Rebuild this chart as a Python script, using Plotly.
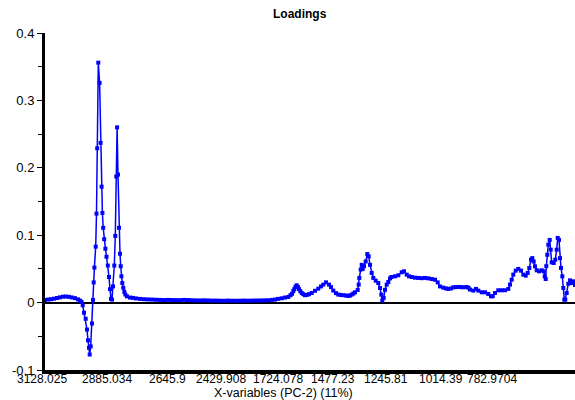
import plotly.graph_objects as go

# Variable index (position along the X-variables axis) and PC-2 loadings
var_index = [0, 3, 6, 9, 12, 15, 18, 21, 24, 27, 30, 33, 35, 36.5, 37.7, 39, 40.7, 42, 43, 44, 44.7, 45.7, 47, 48,
             48.7, 49.4, 50.7, 51.5, 52.2, 53.3, 54.6, 55.6, 56.6, 57.4, 58.2, 59.2, 60.4, 61.5, 62.8, 64, 65, 66, 67,
             68, 69.3, 70.3, 71.3, 72.1, 73, 74, 75, 75.7, 76.4, 77.3, 78.3, 79.3, 80.3, 82, 85, 88, 91, 95, 99, 103,
             107, 111, 115, 119, 123, 127, 131, 135, 139, 143, 147, 151, 155, 159, 163, 167, 171, 175, 179, 183, 187,
             191, 195, 199, 203, 207, 211, 215, 219, 223, 227, 230, 233, 236.7, 240, 243.3, 245.5, 247, 248.3, 249.3,
             250.5, 251.7, 253, 254, 255.3, 256.7, 258.3, 260, 262, 264, 266.7, 270, 273.3, 276, 278.3, 281, 284, 286,
             288.3, 291, 293.3, 296, 298.3, 301, 303.3, 305, 306.7, 308.5, 310, 312.7, 313.7, 314.3, 315.7, 316.7,
             317.7, 319, 320.7, 322.3, 323.7, 325, 326.7, 328.3, 330.7, 333.3, 335, 336.3, 337.3, 338.7, 340, 341.7,
             343.3, 345, 346.5, 350, 353.3, 356.7, 359, 361.7, 364, 366.7, 370, 373.3, 376.7, 380, 383.3, 386.7, 390,
             392.7, 395, 398.3, 401, 403.3, 406, 408.3, 411, 413.3, 416, 418.3, 421.7, 423.5, 425, 428.3, 431, 433.3,
             436.7, 440, 443.3, 446, 447.7, 450, 453.3, 456.7, 460, 463.3, 465, 466.7, 468.3, 470.7, 473.3, 476, 478.3,
             480.7, 482.7, 484.3, 486, 487.3, 488.7, 490, 491.7, 494, 496.7, 498.7, 499.7, 500.7, 501.3, 502.3, 503.3,
             504.7, 505.7, 506.7, 508.7, 510.3, 511.7, 512.7, 514, 515, 516, 517.3, 518.3, 519.3, 520.3, 521.7, 523.3,
             525, 526.7, 528.3, 530]

loadings = [0.004, 0.0045, 0.005, 0.0058, 0.0068, 0.0078, 0.0088, 0.009, 0.0085, 0.0076, 0.0066, 0.0048, 0.003,
            0.001, -0.004, -0.015, -0.024, -0.040, -0.056, -0.067, -0.077, -0.065, -0.031, 0.004,
            0.03, 0.052, 0.083, 0.132, 0.229, 0.356, 0.326, 0.237, 0.172, 0.133, 0.111, 0.094, 0.080, 0.068, 0.055,
            0.038, 0.020, 0.0055, 0.0045,
            0.024, 0.055, 0.099, 0.187, 0.260, 0.190, 0.111, 0.0725, 0.054, 0.039, 0.029, 0.022, 0.016, 0.012,
            0.0093, 0.0075, 0.007, 0.0062, 0.0055, 0.005, 0.0047,
            0.0045, 0.0042, 0.004, 0.0038, 0.004, 0.0038, 0.0037, 0.0036, 0.004, 0.0038, 0.0035, 0.0033, 0.0032,
            0.0034, 0.0032, 0.003, 0.003, 0.0028, 0.0027, 0.003, 0.0028,
            0.0027, 0.0028, 0.003, 0.0028, 0.003, 0.0031, 0.0032, 0.0033, 0.0035, 0.004, 0.0045, 0.0055, 0.0064,
            0.0075, 0.0084, 0.011, 0.013, 0.017, 0.020,
            0.0235, 0.0257, 0.023, 0.020, 0.017, 0.0143, 0.0125, 0.011, 0.0115, 0.0125, 0.0143, 0.0175, 0.0207,
            0.024, 0.0267, 0.030, 0.0267, 0.023,
            0.0178, 0.014, 0.0119, 0.0113, 0.011, 0.0105, 0.0099, 0.0105, 0.0119, 0.0135, 0.0153, 0.0188, 0.0267,
            0.0366, 0.049, 0.056,
            0.050, 0.054, 0.061, 0.072, 0.0686, 0.056, 0.044, 0.0366, 0.0326, 0.029, 0.0217, 0.0119, 0.003, 0.007,
            0.019, 0.0267,
            0.0306, 0.036, 0.038, 0.039, 0.0405, 0.045, 0.0464, 0.0415, 0.039, 0.038, 0.037, 0.0366, 0.0362, 0.0366,
            0.036, 0.035, 0.034,
            0.030, 0.024, 0.0222, 0.021, 0.0203, 0.021, 0.0227, 0.023, 0.0232, 0.023, 0.0227, 0.0232, 0.022, 0.0193,
            0.0178, 0.0203, 0.0178,
            0.0153, 0.0153, 0.0128, 0.0094, 0.0094, 0.0143, 0.0183, 0.0183, 0.0183, 0.0203, 0.0267, 0.034, 0.0415,
            0.0474, 0.050, 0.0474, 0.0415,
            0.040, 0.044, 0.0514, 0.0637, 0.066, 0.061, 0.0538, 0.048, 0.0464, 0.048, 0.0464, 0.039, 0.035, 0.054,
            0.071, 0.086,
            0.093, 0.0785, 0.0597, 0.0588, 0.0637, 0.0785, 0.096, 0.093, 0.066, 0.0514, 0.039, 0.0217, 0.0044,
            0.0044, 0.0143, 0.028,
            0.033, 0.029, 0.0316, 0.026]

tick_positions = [0, 62, 122, 176, 233, 288, 341, 396, 447]
tick_shifts = [-3, 0, 0, 0, 0, 0, 0, 0, 0]
tick_labels = ["3128.025", "2885.034", "2645.9", "2429.908", "1724.078", "1477.23", "1245.81", "1014.39", "782.9704"]

y_tickvals = [-0.1, 0, 0.1, 0.2, 0.3, 0.4]
y_ticktext = ["-0.1", "0", "0.1", "0.2", "0.3", "0.4"]

FONT = "Liberation Sans, Arial, sans-serif"

fig = go.Figure()
fig.add_trace(go.Scatter(
    x=var_index, y=loadings, mode="lines+markers",
    line=dict(color="#0000FF", width=1.5),
    marker=dict(color="#0000FF", size=4, symbol="square"),
    showlegend=False,
))

annotations = [
    dict(text="<b>Loadings</b>", xref="paper", yref="paper",
         x=(300 - 45) / 530, y=(370 - 14) / 337, xanchor="center", yanchor="middle",
         showarrow=False, font=dict(size=12, family=FONT)),
    dict(text="X-variables (PC-2) (11%)", xref="paper", yref="paper",
         x=(283 - 45) / 530, y=(370 - 393.5) / 337, xanchor="center", yanchor="middle",
         showarrow=False, borderpad=0, font=dict(size=12.5, family=FONT)),
]
# x-axis tick labels (variable names) placed at their variable positions
for pos, sh, lab in zip(tick_positions, tick_shifts, tick_labels):
    annotations.append(dict(text=lab, xref="x", yref="paper", x=pos, xshift=sh, y=(370 - 379) / 337,
                            xanchor="center", yanchor="middle", showarrow=False, borderpad=0,
                            font=dict(size=12, family=FONT)))

fig.update_layout(
    width=575, height=400,
    margin=dict(l=45, r=0, t=33, b=30),
    paper_bgcolor="white", plot_bgcolor="white",
    font=dict(family=FONT, size=13, color="black"),
    xaxis=dict(
        range=[0, 530], showgrid=False, zeroline=False,
        showline=True, linecolor="black", linewidth=4,
        showticklabels=False, ticks="", automargin=False,
    ),
    yaxis=dict(
        range=[-0.1, 0.4], showgrid=False, automargin=False,
        zeroline=True, zerolinecolor="black", zerolinewidth=1.5,
        showline=True, linecolor="black", linewidth=3,
        tickmode="array", tickvals=y_tickvals, ticktext=y_ticktext,
        ticks="outside", ticklen=5, tickwidth=1, tickcolor="black",
        minor=dict(tickmode="array", tickvals=[-0.05, 0.05, 0.15, 0.25, 0.35],
                   ticks="outside", ticklen=4, tickcolor="black"),
        tickfont=dict(size=13),
    ),
    annotations=annotations,
)

fig.write_html("out.html")
